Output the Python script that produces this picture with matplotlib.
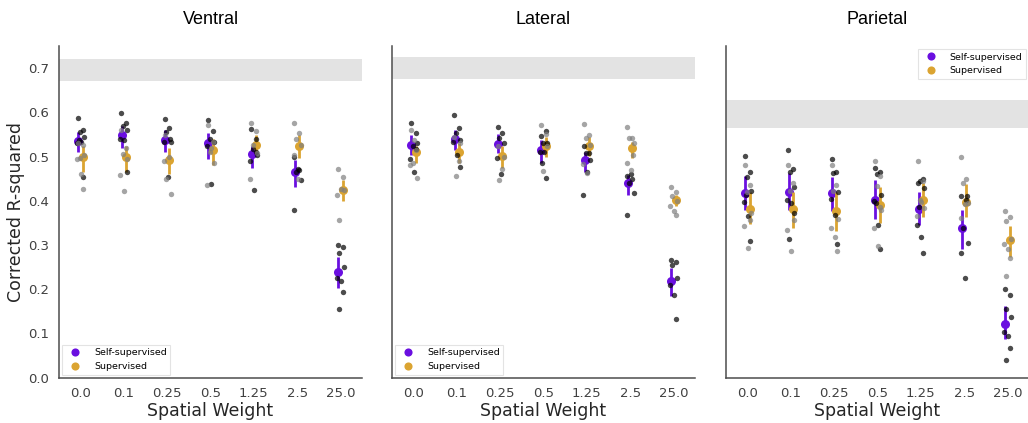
import numpy as np
import matplotlib as mpl
mpl.use('Agg')
import matplotlib.pyplot as plt

weights = ['0.0', '0.1', '0.25', '0.5', '1.25', '2.5', '25.0']
regions = ['Ventral', 'Lateral', 'Parietal']

# noise ceiling band (low, high) per region
ceiling_lo = [0.671, 0.675, 0.565]
ceiling_hi = [0.721, 0.725, 0.628]

# ---- Ventral ----
ventral_ss_pts = [
    [0.588, 0.559, 0.555, 0.545, 0.530, 0.532, 0.453, 0.538],
    [0.598, 0.576, 0.568, 0.559, 0.539, 0.538, 0.464],
    [0.585, 0.564, 0.555, 0.534, 0.534, 0.453, 0.539],
    [0.582, 0.558, 0.539, 0.532, 0.523, 0.437],
    [0.563, 0.539, 0.517, 0.504, 0.491, 0.425, 0.511],
    [0.498, 0.470, 0.466, 0.447, 0.380, 0.471],
    [0.299, 0.296, 0.283, 0.250, 0.225, 0.219, 0.194, 0.155],
]
ventral_sup_pts = [
    [0.530, 0.526, 0.497, 0.503, 0.494, 0.461, 0.426],
    [0.561, 0.519, 0.505, 0.494, 0.459, 0.422],
    [0.549, 0.499, 0.449, 0.415, 0.490],
    [0.571, 0.534, 0.511, 0.485, 0.436, 0.519],
    [0.577, 0.557, 0.526, 0.509, 0.450],
    [0.576, 0.553, 0.539, 0.526, 0.504, 0.449],
    [0.472, 0.453, 0.356, 0.425, 0.413, 0.426],
]
ventral_ss_mean = [0.536, 0.549, 0.538, 0.530, 0.506, 0.465, 0.240]
ventral_ss_lo = [0.510, 0.520, 0.510, 0.494, 0.474, 0.432, 0.202]
ventral_ss_hi = [0.556, 0.570, 0.560, 0.553, 0.523, 0.492, 0.272]
ventral_sup_mean = [0.498, 0.499, 0.493, 0.515, 0.526, 0.524, 0.425]
ventral_sup_lo = [0.465, 0.465, 0.460, 0.480, 0.508, 0.496, 0.400]
ventral_sup_hi = [0.525, 0.525, 0.520, 0.540, 0.549, 0.549, 0.447]

# ---- Lateral ----
lateral_ss_pts = [
    [0.577, 0.554, 0.524, 0.530, 0.494, 0.464, 0.517],
    [0.594, 0.564, 0.553, 0.538, 0.532, 0.504, 0.477],
    [0.566, 0.553, 0.543, 0.530, 0.497, 0.460],
    [0.547, 0.557, 0.530, 0.530, 0.511, 0.511, 0.451, 0.486],
    [0.524, 0.507, 0.509, 0.493, 0.413, 0.466],
    [0.456, 0.449, 0.440, 0.417, 0.368, 0.461],
    [0.266, 0.262, 0.255, 0.225, 0.210, 0.186, 0.132],
]
lateral_sup_pts = [
    [0.559, 0.515, 0.485, 0.451, 0.480, 0.538],
    [0.545, 0.489, 0.457, 0.530],
    [0.524, 0.471, 0.447, 0.500],
    [0.571, 0.551, 0.467, 0.523],
    [0.574, 0.548, 0.541, 0.526, 0.483, 0.462],
    [0.566, 0.543, 0.541, 0.530, 0.486, 0.470, 0.504],
    [0.432, 0.421, 0.410, 0.400, 0.389, 0.378, 0.367],
]
lateral_ss_mean = [0.526, 0.540, 0.528, 0.515, 0.493, 0.440, 0.219]
lateral_ss_lo = [0.503, 0.515, 0.508, 0.485, 0.464, 0.412, 0.185]
lateral_ss_hi = [0.549, 0.560, 0.550, 0.538, 0.511, 0.458, 0.247]
lateral_sup_mean = [0.510, 0.510, 0.502, 0.523, 0.523, 0.519, 0.402]
lateral_sup_lo = [0.485, 0.485, 0.474, 0.500, 0.502, 0.496, 0.389]
lateral_sup_hi = [0.523, 0.530, 0.523, 0.545, 0.544, 0.534, 0.413]

# ---- Parietal ----
parietal_ss_pts = [
    [0.502, 0.466, 0.453, 0.423, 0.398, 0.366, 0.309, 0.413],
    [0.515, 0.471, 0.466, 0.432, 0.402, 0.395, 0.372, 0.313],
    [0.495, 0.465, 0.463, 0.421, 0.404, 0.369, 0.302],
    [0.475, 0.466, 0.460, 0.413, 0.400, 0.346, 0.291, 0.395],
    [0.440, 0.449, 0.444, 0.429, 0.346, 0.319, 0.283, 0.387],
    [0.411, 0.402, 0.338, 0.304, 0.283, 0.225, 0.410],
    [0.200, 0.187, 0.155, 0.138, 0.104, 0.094, 0.068, 0.040],
]
parietal_sup_pts = [
    [0.481, 0.436, 0.421, 0.372, 0.342, 0.293, 0.357],
    [0.482, 0.440, 0.423, 0.357, 0.334, 0.287],
    [0.481, 0.436, 0.423, 0.359, 0.338, 0.318, 0.287],
    [0.491, 0.455, 0.434, 0.379, 0.338, 0.298, 0.387],
    [0.489, 0.444, 0.402, 0.383, 0.366, 0.398],
    [0.499, 0.449, 0.440, 0.395, 0.361, 0.393],
    [0.376, 0.364, 0.355, 0.313, 0.303, 0.291, 0.271, 0.230],
]
parietal_ss_mean = [0.417, 0.421, 0.417, 0.402, 0.382, 0.338, 0.121]
parietal_ss_lo = [0.380, 0.380, 0.376, 0.358, 0.346, 0.292, 0.087]
parietal_ss_hi = [0.455, 0.462, 0.454, 0.446, 0.419, 0.379, 0.161]
parietal_sup_mean = [0.382, 0.382, 0.377, 0.391, 0.402, 0.398, 0.312]
parietal_sup_lo = [0.348, 0.338, 0.331, 0.349, 0.364, 0.364, 0.274]
parietal_sup_hi = [0.421, 0.421, 0.421, 0.432, 0.441, 0.438, 0.343]

ss_pts = [ventral_ss_pts, lateral_ss_pts, parietal_ss_pts]
sup_pts = [ventral_sup_pts, lateral_sup_pts, parietal_sup_pts]
ss_stats = [(ventral_ss_mean, ventral_ss_lo, ventral_ss_hi),
            (lateral_ss_mean, lateral_ss_lo, lateral_ss_hi),
            (parietal_ss_mean, parietal_ss_lo, parietal_ss_hi)]
sup_stats = [(ventral_sup_mean, ventral_sup_lo, ventral_sup_hi),
             (lateral_sup_mean, lateral_sup_lo, lateral_sup_hi),
             (parietal_sup_mean, parietal_sup_lo, parietal_sup_hi)]

PURPLE = '#6a0fe0'
GOLD = '#dba431'
jitter = [-0.06, 0.05, -0.02, 0.08, -0.08, 0.01, 0.06, -0.04, 0.03, -0.07]

fig = plt.figure(figsize=(10.28, 4.23), dpi=100)
lefts = [59, 392, 726]
W, H = 1028, 423
axes = []
for i, name in enumerate(regions):
    ax = fig.add_axes([lefts[i] / W, 1 - 377.7 / H, 303 / W, (377.7 - 46) / H])
    axes.append(ax)
    x = np.arange(len(weights))

    ax.axhspan(ceiling_lo[i], ceiling_hi[i], color='#e3e3e3', lw=0, zorder=0)

    for k, xc in enumerate(x):
        for pts, col in ((ss_pts[i][k], 'black'), (sup_pts[i][k], '#7f7f7f')):
            off = np.array([jitter[j % len(jitter)] for j in range(len(pts))])
            ax.scatter(xc + off, pts, s=15, color=col, alpha=0.7, lw=0, zorder=4)

    for stats, col, d, lab in ((ss_stats[i], PURPLE, -0.05, 'Self-supervised'),
                               (sup_stats[i], GOLD, 0.05, 'Supervised')):
        m, lo, hi = (np.array(s) for s in stats)
        ax.vlines(x + d, lo, hi, color=col, lw=2, zorder=3)
        ax.plot(x + d, m, 'o', color=col, ms=6.5, mew=0, zorder=3, label=lab)

    ax.set_xlim(-0.5, 6.5)
    ax.set_ylim(0, 0.75)
    ax.set_xticks(x)
    ax.set_xticklabels(weights)
    ax.set_yticks(np.arange(0, 0.71, 0.1))
    if i == 0:
        ax.set_yticklabels([f'{v:.1f}' for v in np.arange(0, 0.71, 0.1)])
        ax.set_ylabel('Corrected R-squared', fontsize=12.5, color='0.15', labelpad=2)
    else:
        ax.set_yticklabels([])
    ax.tick_params(length=0, labelsize=9.5, colors='0.25', pad=7)
    ax.set_xlabel('Spatial Weight', fontsize=12.5, color='0.15', labelpad=1)
    ax.set_title(name, fontsize=13, family='Liberation Sans', pad=16)
    for s in ('top', 'right'):
        ax.spines[s].set_visible(False)
    for s in ('left', 'bottom'):
        ax.spines[s].set_color('0.3')
        ax.spines[s].set_linewidth(1.1)

    loc = 'upper right' if i == 2 else 'lower left'
    leg = ax.legend(loc=loc, fontsize=6.8, markerscale=0.9, borderaxespad=0.3,
                    handletextpad=1.0, frameon=True, fancybox=False)
    leg.get_frame().set_edgecolor('#dddddd')
    leg.get_frame().set_linewidth(0.8)

fig.savefig('out.png', dpi=100)
